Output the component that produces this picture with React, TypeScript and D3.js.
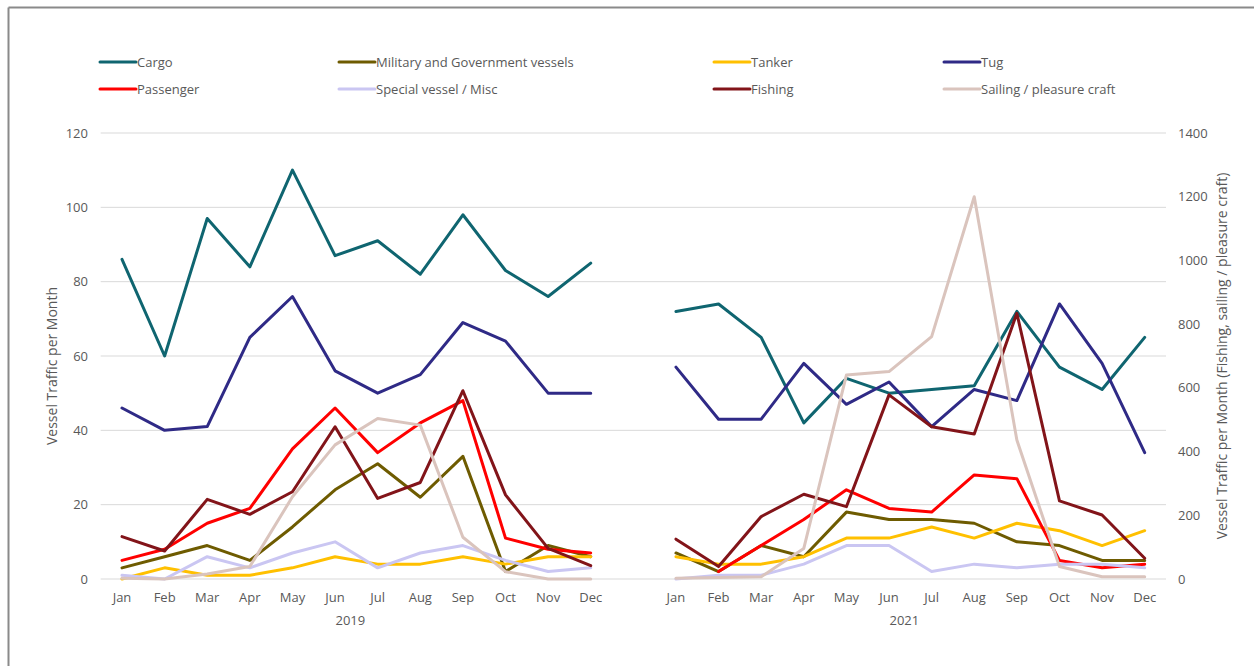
import React from "react";
import * as d3 from "d3";

const months = ["Jan","Feb","Mar","Apr","May","Jun","Jul","Aug","Sep","Oct","Nov","Dec"];
const years = ["2019","2021"];
const leftTicks = [0,20,40,60,80,100,120];
const rightTicks = [0,200,400,600,800,1000,1200,1400];

// values: first 12 = 2019, last 12 = 2021
const cargo = [86,60,97,84,110,87,91,82,98,83,76,85, 72,74,65,42,54,50,51,52,72,57,51,65];
const military = [3,6,9,5,14,24,31,22,33,2,9,6, 7,2,9,6,18,16,16,15,10,9,5,5];
const tanker = [0,3,1,1,3,6,4,4,6,4,6,6, 6,4,4,6,11,11,14,11,15,13,9,13];
const tug = [46,40,41,65,76,56,50,55,69,64,50,50, 57,43,43,58,47,53,41,51,48,74,58,34];
const passenger: (number|null)[] = [5,8,15,19,35,46,34,42,48,11,8,7, null,2,9,16,24,19,18,28,27,5,3,4];
const special = [1,0,6,3,7,10,3,7,9,5,2,3, 0,1,1,4,9,9,2,4,3,4,4,3];
const fishing = [133,88,250,203,274,478,253,303,591,264,96,42, 125,39,196,266,227,578,478,455,834,245,201,65];
const sailing = [2,0,16,39,258,421,504,483,131,23,0,0, 2,5,7,96,640,651,761,1200,436,39,7,7];

const seriesNames = ["Cargo","Military and Government vessels","Tanker","Tug","Passenger","Special vessel / Misc","Fishing","Sailing / pleasure craft"];
const seriesColors = ["#0f6570","#6e5b00","#ffc000","#2f2a86","#ff0000","#cac6f2","#821419","#dac4bd"];
const seriesData = [cargo, military, tanker, tug, passenger, special, fishing, sailing];
const seriesAxis = ["left","left","left","left","left","left","right","right"];

const W = 1254, H = 666;
const plotL = 100.7, plotR = 1166, plotT = 133, plotB = 579;
const textColor = "#595959";
const font = "'Open Sans', 'Noto Sans', sans-serif";

export default function App() {
  const keys: string[] = [];
  months.forEach(m => keys.push("2019-" + m));
  keys.push("gap");
  months.forEach(m => keys.push("2021-" + m));

  const x = d3.scalePoint<string>().domain(keys).range([plotL, plotR]).padding(0.5);
  const yL = d3.scaleLinear().domain([0, 120]).range([plotB, plotT]);
  const yR = d3.scaleLinear().domain([0, 1400]).range([plotB, plotT]);

  const makePath = (vals: (number|null)[], scale: d3.ScaleLinear<number, number>, yi: number) => {
    const pts = vals.slice(yi * 12, yi * 12 + 12).map((v, i) => ({ k: years[yi] + "-" + months[i], v }));
    return d3.line<{k: string; v: number|null}>()
      .defined(d => d.v !== null)
      .x(d => x(d.k) as number)
      .y(d => scale(d.v as number))(pts) || "";
  };

  const legendCols = [100, 339, 714, 944];
  const legendRows = [62, 89];

  return (
    <svg width={W} height={H} style={{ position: "absolute", left: 0, top: 0, background: "#fff" }} fontFamily={font}>
      <rect x={0} y={0} width={W} height={H} fill="#fff" />
      {/* outer frame */}
      <line x1={8.5} y1={7.5} x2={W} y2={7.5} stroke="#8a8a8a" strokeWidth={2} />
      <line x1={8.5} y1={7.5} x2={8.5} y2={H} stroke="#8a8a8a" strokeWidth={2} />

      {/* gridlines */}
      {leftTicks.map(t => (
        <line key={"g" + t} x1={plotL} x2={plotR} y1={yL(t)} y2={yL(t)} stroke="#d9d9d9" strokeWidth={1} />
      ))}

      {/* left ticks */}
      {leftTicks.map(t => (
        <text key={"lt" + t} x={88} y={yL(t)} dy="0.35em" textAnchor="end" fontSize={13} fill={textColor}>{t}</text>
      ))}
      {/* right ticks */}
      {rightTicks.map(t => (
        <text key={"rt" + t} x={1178} y={yR(t)} dy="0.35em" textAnchor="start" fontSize={13} fill={textColor}>{t}</text>
      ))}

      {/* axis titles */}
      <text transform={`translate(57,${(plotT + plotB) / 2 + 10}) rotate(-90)`} textAnchor="middle" fontSize={14} fill={textColor}>Vessel Traffic per Month</text>
      <text transform={`translate(1227,${(plotT + plotB) / 2}) rotate(-90)`} textAnchor="middle" fontSize={14} fill={textColor}>Vessel Traffic per Month (Fishing, sailing / pleasure craft)</text>

      {/* month labels */}
      {years.map(yr => months.map(m => (
        <text key={yr + m} x={x(yr + "-" + m) as number} y={602} textAnchor="middle" fontSize={13} fill={textColor}>{m}</text>
      )))}
      {years.map(yr => {
        const cx = ((x(yr + "-Jan") as number) + (x(yr + "-Dec") as number)) / 2;
        return <text key={"yr" + yr} x={cx - 6} y={625} textAnchor="middle" fontSize={13} fill={textColor}>{yr}</text>;
      })}

      {/* series */}
      {seriesData.map((vals, si) => years.map((yr, yi) => (
        <path key={si + "-" + yr} d={makePath(vals, seriesAxis[si] === "left" ? yL : yR, yi)}
          fill="none" stroke={seriesColors[si]} strokeWidth={3} strokeLinejoin="round" strokeLinecap="round" />
      )))}

      {/* legend */}
      {seriesNames.map((name, i) => {
        const cx = legendCols[i % 4];
        const cy = legendRows[Math.floor(i / 4)];
        return (
          <g key={"lg" + i}>
            <line x1={cx} x2={cx + 36} y1={cy} y2={cy} stroke={seriesColors[i]} strokeWidth={3} strokeLinecap="round" />
            <text x={cx + 37} y={cy} dy="0.35em" fontSize={13} fill={textColor}>{name}</text>
          </g>
        );
      })}
    </svg>
  );
}
